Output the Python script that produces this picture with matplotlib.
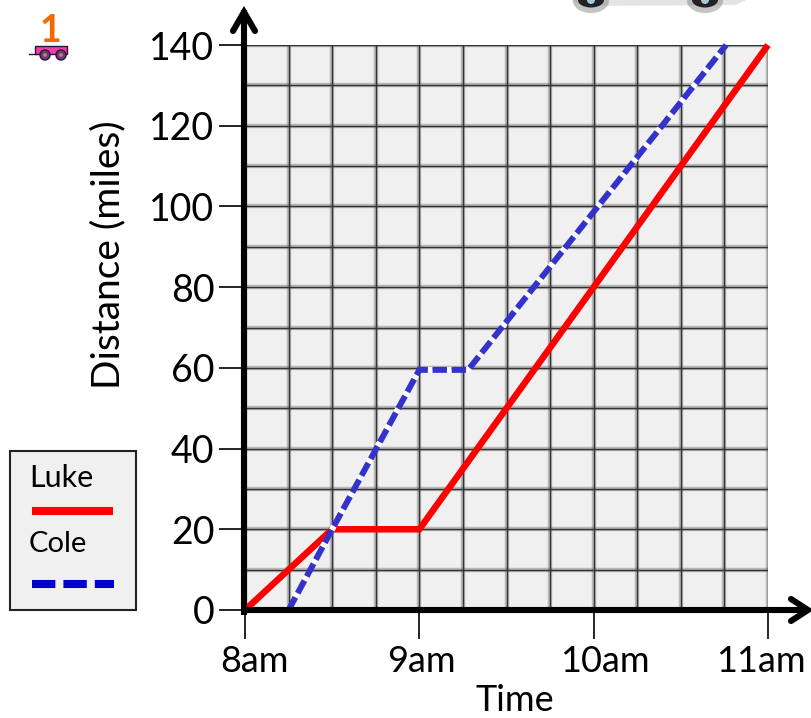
import matplotlib
matplotlib.use("Agg")
import matplotlib.pyplot as plt
from matplotlib.patches import Rectangle, Circle, Polygon, Ellipse
from matplotlib.transforms import Affine2D

plt.rcParams["font.family"] = ["Lato", "DejaVu Sans"]

# hours after midnight
luke_time = [8, 8.5, 9, 11]
luke_dist = [0, 20, 20, 140]
cole_time = [8.25, 8.5, 9, 9.28, 10.76]
cole_dist = [0, 20, 59.5, 59.5, 140]

hour_ticks = [8, 9, 10, 11]
hour_labels = ["8am", "9am", "10am", "11am"]
quarter_lines = [8.25, 8.5, 8.75, 9.25, 9.5, 9.75, 10.25, 10.5, 10.75]
dist_ticks = [0, 20, 40, 60, 80, 100, 120, 140]
dist_lines = [10, 30, 50, 70, 90, 110, 130]

W, H = 811, 718
fig = plt.figure(figsize=(W / 100, H / 100), dpi=100)
ax = fig.add_axes([245 / W, 1 - 610 / H, (768 - 245) / W, (610 - 45) / H])
ax.set_facecolor("#f0f0f0")
ax.set_xlim(8, 11)
ax.set_ylim(0, 140)

# grid, wide soft line with a thin dark core
for xs in hour_ticks + quarter_lines:
    ax.axvline(xs, color="#666666", lw=3.2, alpha=0.4, zorder=1)
    ax.axvline(xs, color="#333333", lw=1.0, zorder=1.1)
for ys in dist_ticks + dist_lines:
    ax.axhline(ys, color="#666666", lw=3.2, alpha=0.4, zorder=1)
    ax.axhline(ys, color="#333333", lw=1.0, zorder=1.1)

ax.plot(luke_time, luke_dist, color="#ff0000", lw=4.7, zorder=3, clip_on=False,
        solid_capstyle="butt", solid_joinstyle="miter")
ax.plot(cole_time, cole_dist, color="#3333cc", lw=4.3, zorder=4, clip_on=False,
        dashes=(2.4, 0.8), gapcolor="white", dash_capstyle="butt", dash_joinstyle="miter")

for s in ax.spines.values():
    s.set_visible(False)
ax.set_xticks(hour_ticks)
ax.set_xticklabels(hour_labels, fontsize=26)
ax.set_yticks(dist_ticks)
ax.tick_params(axis="x", length=21, width=1.2, pad=4, color="black")
ax.tick_params(axis="y", length=19, width=1.2, pad=3, color="black", labelsize=27)
ax.set_xlabel("Time", fontsize=26, va="center")
ax.xaxis.set_label_coords(0.516, -0.160)
ax.set_ylabel("Distance (miles)", fontsize=28, va="center")
ax.yaxis.set_label_coords(-0.262, 0.628)

# the hour labels are not centred on their ticks in the original
for lab, dx in zip(ax.get_xticklabels(), [10, 2, 11, -7]):
    lab.set_transform(lab.get_transform() + Affine2D().translate(dx, 0))

# overlay in pixel coordinates for arrows, legend and clip art
ov = fig.add_axes([0, 0, 1, 1], zorder=5)
ov.set_xlim(0, W)
ov.set_ylim(H, 0)
ov.axis("off")

# axis arrows
ov.plot([244, 244], [615, 10], color="black", lw=4.4, solid_capstyle="butt")
ov.plot([233, 244, 255], [31, 12, 31], color="black", lw=4.4,
        solid_capstyle="round", solid_joinstyle="miter")
ov.plot([241, 805], [610, 610], color="black", lw=4.4, solid_capstyle="butt")
ov.plot([791, 808, 791], [599, 610, 621], color="black", lw=4.4,
        solid_capstyle="round", solid_joinstyle="miter")

# legend box
ov.add_patch(Rectangle((10, 451), 126, 159, fc="#f0f0f0", ec="#222222", lw=1.5))
ov.text(29, 478, "Luke", fontsize=22, va="center", ha="left")
ov.plot([32, 113], [511, 511], color="#ff0000", lw=5.8, solid_capstyle="butt")
ov.text(29, 544, "Cole", fontsize=21, va="center", ha="left")
ov.plot([32, 114], [584, 584], color="#0000cc", lw=5.8, dashes=(2.9, 1), dash_capstyle="butt")

# little wagon with the number 1
ov.text(50, 31, "1", fontsize=27, fontweight="bold", color="#f06a00", ha="center", va="center")
ov.add_patch(Rectangle((35, 46), 32, 8, fc="#ee3fa0", ec="#30103a", lw=1))
ov.plot([29, 36], [54, 54], color="#222222", lw=1)
for cx in (45, 61):
    ov.add_patch(Circle((cx, 55), 5, fc="#6a3a8a", ec="#30103a", lw=1))
    ov.add_patch(Circle((cx, 55), 1.8, fc="#c98a30", ec="none"))

# bottom of the car cut off at the top edge
ov.add_patch(Polygon([(572, 0), (578, 4), (590, 6), (735, 5), (745, 1), (745, 0)],
                     fc="#e4e4e4", ec="none"))
for cx in (591, 705):
    ov.add_patch(Ellipse((cx, 1), 36, 24, fc="#888888", ec="none", alpha=0.5))
    ov.add_patch(Ellipse((cx, 0), 26, 15, fc="#222222", ec="none"))
    ov.add_patch(Circle((cx, 0), 4, fc="#a8c8d8", ec="none"))

fig.savefig("out.png", dpi=100)
